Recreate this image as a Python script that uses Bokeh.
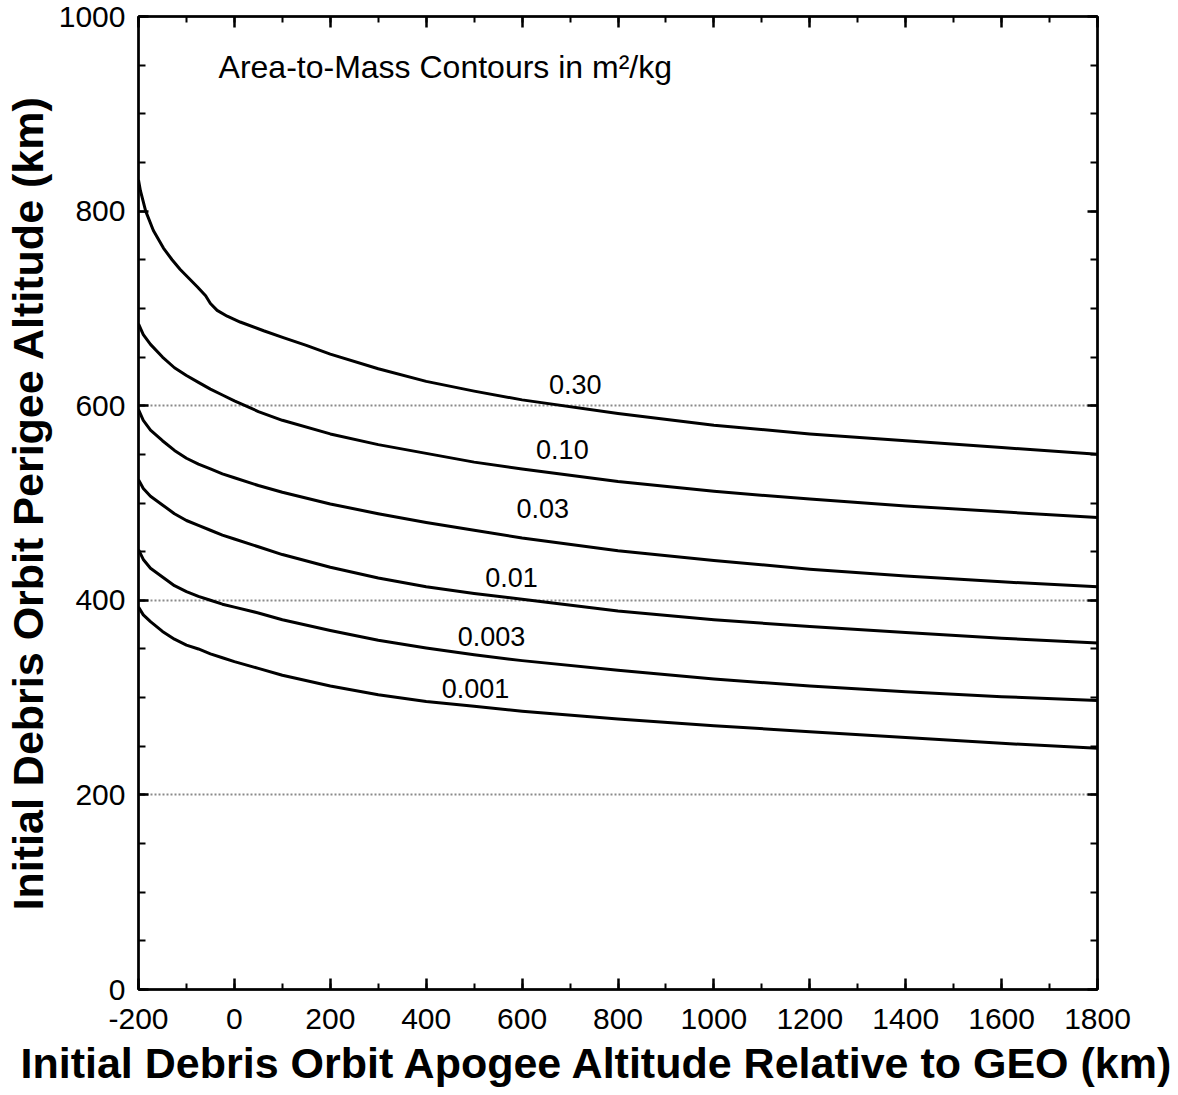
from bokeh.plotting import figure
from bokeh.models import (LinearAxis, SingleIntervalTicker, FixedTicker, Range1d, Label, Grid,
                          PrintfTickFormatter, Title)
from bokeh.embed import file_html
from bokeh.resources import INLINE
from bokeh.core.properties import value

# ---- data ----
apogee_030 = [-200, -196, -185, -169, -148, -130, -113, -95, -77, -60, -50, -36, -15, 12, 61, 102,
              150, 200, 300, 400, 500, 600, 800, 1000, 1200, 1400, 1600, 1800]
perigee_030 = [832, 821, 800, 780, 762, 750, 740, 731, 722, 713, 705, 698, 692, 686, 677, 670,
               662, 653, 638, 625, 615, 606, 592, 580, 571, 564, 557, 550]

apogee = [-200, -190, -175, -150, -125, -100, -75, -50, -25, 0, 50, 100, 200, 300, 400, 500,
          600, 800, 1000, 1200, 1400, 1600, 1800]
perigee_010 = [684, 673, 663, 650, 639, 631, 624, 617, 611, 605, 594, 585, 571, 560, 551, 542,
               535, 522, 512, 504, 497, 491, 485]
perigee_003 = [596, 585, 575, 564, 554, 546, 540, 535, 530, 526, 518, 511, 499, 489, 480, 472,
               464, 451, 441, 432, 425, 419, 414]
perigee_001 = [524, 515, 507, 498, 489, 482, 477, 472, 467, 463, 455, 447, 434, 423, 414, 407,
               401, 389, 380, 373, 367, 361, 356]
perigee_0003 = [452, 442, 433, 424, 415, 409, 404, 400, 396, 393, 387, 380, 369, 359, 351, 344,
                338, 328, 319, 312, 306, 301, 297]
perigee_0001 = [393, 385, 378, 368, 360, 354, 350, 345, 341, 337, 330, 323, 312, 303, 296, 291,
                286, 278, 271, 265, 259, 253, 248]

contour_labels = ["0.30", "0.10", "0.03", "0.01", "0.003", "0.001"]
label_apogee = [711, 684, 643, 578, 536, 503]
label_perigee = [622, 555, 494, 423, 363, 309]

grid_levels = [200, 400, 600]

FONT = "Liberation Sans"
W, H = 1172, 1092

p = figure(width=W, height=H, x_range=Range1d(-200, 1800), y_range=Range1d(0, 1000),
           output_backend="svg", toolbar_location=None,
           min_border_left=138, min_border_right=W - 1097, min_border_top=16,
           min_border_bottom=H - 989, x_axis_type=None, y_axis_type=None)
p.outline_line_color = "black"
p.outline_line_width = 2
p.background_fill_color = "white"
p.border_fill_color = "white"

def style_axis(ax, label_size, show_labels=True):
    ax.axis_line_color = "black"
    ax.axis_line_width = 2.5
    ax.major_tick_line_color = "black"
    ax.minor_tick_line_color = "black"
    ax.major_tick_line_width = 2.5
    ax.minor_tick_line_width = 2
    ax.major_tick_out = 0
    ax.minor_tick_out = 0
    ax.major_label_text_font = FONT
    ax.major_label_text_color = "black"
    ax.formatter = PrintfTickFormatter(format="%d")
    if show_labels:
        ax.major_label_text_font_size = label_size
    else:
        ax.major_label_text_font_size = "0px"
        ax.major_label_standoff = 0
        ax.major_label_text_alpha = 0

# x axes
for loc in ("below", "above"):
    ax = LinearAxis(ticker=SingleIntervalTicker(interval=200, num_minor_ticks=2))
    style_axis(ax, "30px", show_labels=(loc == "below"))
    ax.major_tick_in = 11
    ax.minor_tick_in = 6
    if loc == "below":
        ax.major_label_standoff = 19
    p.add_layout(ax, loc)

# y axes
for loc in ("left", "right"):
    ax = LinearAxis(ticker=SingleIntervalTicker(interval=200, num_minor_ticks=4))
    style_axis(ax, "30px", show_labels=(loc == "left"))
    ax.major_tick_in = 10
    ax.minor_tick_in = 7
    if loc == "left":
        ax.major_label_standoff = 13
        ax.axis_label = "Initial Debris Orbit Perigee Altitude (km)"
        ax.axis_label_text_font = FONT
        ax.axis_label_text_font_style = "bold"
        ax.axis_label_text_font_size = "43px"
        ax.axis_label_text_color = "black"
        ax.axis_label_standoff = 4
    p.add_layout(ax, loc)

# x-axis title as a left-aligned title below the axis (starts left of the frame as in the reference)
xtitle = Title(text="Initial Debris Orbit Apogee Altitude Relative to GEO (km)",
               align="left", offset=-118, text_font=FONT, text_font_size="43px",
               text_font_style="bold", text_color="black", standoff=10)
p.add_layout(xtitle, "below")

grid = Grid(dimension=1, ticker=FixedTicker(ticks=grid_levels),
            grid_line_color="#8a8a8a", grid_line_width=2, grid_line_dash="2 2")
p.add_layout(grid)

for xs, ys in [(apogee_030, perigee_030), (apogee, perigee_010), (apogee, perigee_003),
               (apogee, perigee_001), (apogee, perigee_0003), (apogee, perigee_0001)]:
    p.line(xs, ys, line_color="black", line_width=3, line_join="round")

p.text(x=label_apogee, y=label_perigee, text=contour_labels,
       text_font=value(FONT), text_font_size="27px", text_color="black",
       text_align="center", text_baseline="middle")

p.add_layout(Label(x=-33, y=948, text="Area-to-Mass Contours in m²/kg",
                   text_font=FONT, text_font_size="32px", text_color="black",
                   text_baseline="middle", text_align="left"))

open("out.html", "w").write(file_html(p, INLINE))
